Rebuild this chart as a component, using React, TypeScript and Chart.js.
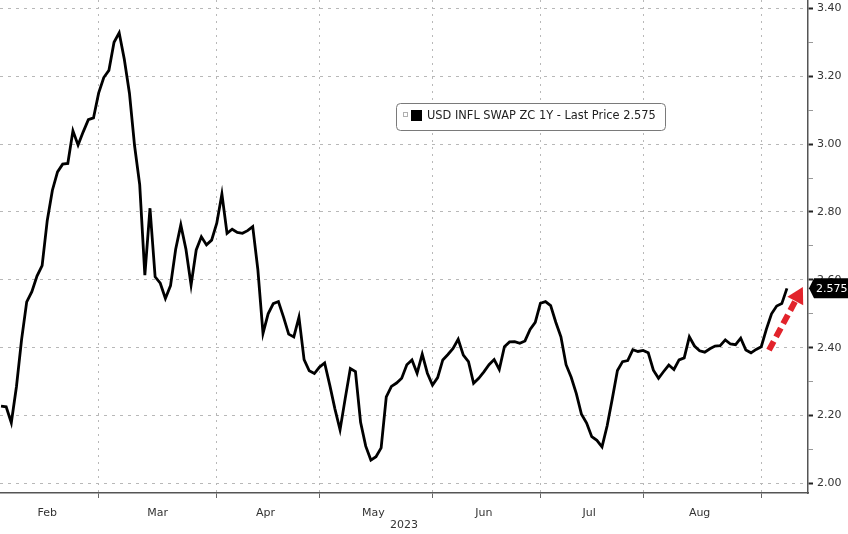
import React, { useEffect, useRef } from 'react';
import { Chart, registerables } from 'chart.js';

Chart.register(...registerables);

// ---- Data (one value per trading day, Feb 1 2023 onward) ----
const swapValues = [
  2.228, 2.226, 2.179, 2.285, 2.424, 2.535, 2.565, 2.611, 2.642, 2.775,
  2.864, 2.918, 2.941, 2.943, 3.039, 2.997, 3.036, 3.072, 3.077, 3.150,
  3.196, 3.217, 3.300, 3.328, 3.250, 3.150, 2.995, 2.880, 2.614, 2.811,
  2.609, 2.590, 2.545, 2.583, 2.690, 2.762, 2.690, 2.585, 2.688, 2.727,
  2.703, 2.717, 2.767, 2.853, 2.737, 2.749, 2.740, 2.737, 2.745, 2.757,
  2.630, 2.442, 2.500, 2.530, 2.536, 2.490, 2.440, 2.432, 2.490, 2.365,
  2.332, 2.324, 2.343, 2.355, 2.290, 2.220, 2.158, 2.250, 2.339, 2.330,
  2.180, 2.110, 2.069, 2.079, 2.105, 2.255, 2.286, 2.296, 2.310, 2.350,
  2.364, 2.325, 2.381, 2.325, 2.290, 2.312, 2.364, 2.380, 2.398, 2.425,
  2.378, 2.359, 2.295, 2.310, 2.329, 2.350, 2.365, 2.336, 2.403, 2.417,
  2.418, 2.413, 2.420, 2.454, 2.475, 2.531, 2.536, 2.524, 2.475, 2.432,
  2.350, 2.313, 2.265, 2.204, 2.178, 2.138, 2.127, 2.108, 2.170, 2.250,
  2.333, 2.359, 2.362, 2.394, 2.389, 2.392, 2.385, 2.334, 2.310, 2.330,
  2.349, 2.336, 2.364, 2.370, 2.432, 2.405, 2.391, 2.387, 2.397, 2.405,
  2.406, 2.423, 2.411, 2.409, 2.428, 2.393, 2.385, 2.395, 2.403, 2.455,
  2.500, 2.523, 2.530, 2.575,
];

// trading-day index of the first day of each month (gridlines)
const monthStarts = [19, 42, 62, 84, 105, 125, 148];
const monthLabels = ['Feb', 'Mar', 'Apr', 'May', 'Jun', 'Jul', 'Aug'];
const monthLabelPos = [9, 30.5, 51.5, 72.5, 94, 114.5, 136];
const yearLabel = '2023';

const yTicks = [2.0, 2.1, 2.2, 2.3, 2.4, 2.5, 2.6, 2.7, 2.8, 2.9, 3.0, 3.1, 3.2, 3.3, 3.4];
const yLabeled = [2.0, 2.2, 2.4, 2.6, 2.8, 3.0, 3.2, 3.4];

const seriesName = 'USD INFL SWAP ZC 1Y';
const lastPrice = 2.575;
const arrowFrom = { x: 149.5, y: 2.393 };
const arrowTo = { x: 156.1, y: 2.579 };

const FONT = '"DejaVu Sans", "Liberation Sans", sans-serif';

const isMajorY = (v: number) => yLabeled.some((t) => Math.abs(t - v) < 1e-6);
const isMonthStart = (v: number) => monthStarts.some((t) => Math.abs(t - v) < 1e-6);

const overlayPlugin = {
  id: 'bbgOverlay',
  afterDraw(chart: any) {
    const { ctx, chartArea, scales } = chart;
    const xs = scales.x;
    const ys = scales.y;
    ctx.save();

    // Legend box
    const bx = 396, by = 103, bw = 269, bh = 27;
    ctx.fillStyle = '#ffffff';
    ctx.strokeStyle = '#7a7a7a';
    ctx.lineWidth = 1;
    ctx.beginPath();
    (ctx as any).roundRect(bx + 0.5, by + 0.5, bw, bh, 4);
    ctx.fill();
    ctx.stroke();
    ctx.strokeStyle = '#b0b0b0';
    ctx.strokeRect(403.5, 112.5, 4, 4);
    ctx.fillStyle = '#000000';
    ctx.fillRect(411, 110, 11, 11);
    ctx.fillStyle = '#222222';
    ctx.font = '11.4px ' + FONT;
    ctx.textAlign = 'left';
    ctx.textBaseline = 'middle';
    ctx.fillText(`${seriesName} - Last Price ${lastPrice.toFixed(3)}`, 427, 116.5);

    // Red dashed arrow
    const x1 = xs.getPixelForValue(arrowFrom.x);
    const y1 = ys.getPixelForValue(arrowFrom.y);
    const x2 = xs.getPixelForValue(arrowTo.x);
    const y2 = ys.getPixelForValue(arrowTo.y);
    const ang = Math.atan2(y2 - y1, x2 - x1);
    const headLen = 16, headW = 9;
    const hx = x2 - headLen * Math.cos(ang);
    const hy = y2 - headLen * Math.sin(ang);
    ctx.strokeStyle = '#e2232b';
    ctx.lineWidth = 6;
    ctx.setLineDash([10, 5]);
    ctx.beginPath();
    ctx.moveTo(x1, y1);
    ctx.lineTo(hx, hy);
    ctx.stroke();
    ctx.setLineDash([]);
    ctx.fillStyle = '#e2232b';
    ctx.beginPath();
    ctx.moveTo(x2, y2);
    ctx.lineTo(hx + headW * Math.sin(ang), hy - headW * Math.cos(ang));
    ctx.lineTo(hx - headW * Math.sin(ang), hy + headW * Math.cos(ang));
    ctx.closePath();
    ctx.fill();

    // Last price tag on the axis
    const ly = ys.getPixelForValue(lastPrice);
    const r = chartArea.right;
    ctx.fillStyle = '#000000';
    ctx.beginPath();
    ctx.moveTo(r + 1, ly);
    ctx.lineTo(r + 6, ly - 10);
    ctx.lineTo(chart.width, ly - 10);
    ctx.lineTo(chart.width, ly + 10);
    ctx.lineTo(r + 6, ly + 10);
    ctx.closePath();
    ctx.fill();
    ctx.fillStyle = '#ffffff';
    ctx.font = '11px ' + FONT;
    ctx.fillText(lastPrice.toFixed(3), r + 8, ly + 0.5);

    ctx.restore();
  },
};

export default function App() {
  const canvasRef = useRef<HTMLCanvasElement | null>(null);

  useEffect(() => {
    if (!canvasRef.current) return;
    const chart = new Chart(canvasRef.current, {
      type: 'line',
      data: {
        datasets: [
          {
            label: seriesName,
            data: swapValues.map((v, i) => ({ x: i, y: v })),
            borderColor: '#000000',
            borderWidth: 2.8,
            pointRadius: 0,
            tension: 0,
            fill: false,
          },
        ],
      },
      options: {
        animation: false,
        responsive: false,
        maintainAspectRatio: false,
        layout: { padding: 0 },
        plugins: {
          legend: { display: false },
          tooltip: { enabled: false },
        },
        scales: {
          x: {
            type: 'linear',
            position: 'bottom',
            min: -0.2,
            max: 157.1,
            afterBuildTicks: (scale: any) => {
              scale.ticks = [...monthStarts, ...monthLabelPos]
                .sort((a, b) => a - b)
                .map((v) => ({ value: v }));
            },
            afterFit: (scale: any) => {
              scale.height = 41;
              scale.paddingLeft = 0;
              scale.paddingRight = 0;
            },
            ticks: {
              autoSkip: false,
              maxRotation: 0,
              padding: 9,
              color: '#333333',
              font: { family: FONT, size: 11 },
              callback: (value: any) => {
                const idx = monthLabelPos.findIndex((p) => Math.abs(p - value) < 1e-6);
                return idx >= 0 ? monthLabels[idx] : '';
              },
            },
            grid: {
              display: true,
              drawOnChartArea: true,
              drawTicks: true,
              tickLength: 5,
              lineWidth: 1,
              color: (ctx: any) => (ctx.tick && isMonthStart(ctx.tick.value) ? '#b8b8b8' : 'rgba(0,0,0,0)'),
              tickColor: (ctx: any) => (ctx.tick && isMonthStart(ctx.tick.value) ? '#666666' : 'rgba(0,0,0,0)'),
            },
            border: { display: true, color: '#555555', width: 1.5, dash: [2, 5] },
            title: {
              display: true,
              text: yearLabel,
              color: '#333333',
              font: { family: FONT, size: 11 },
              padding: { top: 0, bottom: 2 },
            },
          },
          y: {
            type: 'linear',
            position: 'right',
            min: 1.972,
            max: 3.4245,
            afterBuildTicks: (scale: any) => {
              scale.ticks = yTicks.map((v) => ({ value: v }));
            },
            afterFit: (scale: any) => {
              scale.width = 40;
              scale.paddingTop = 0;
              scale.paddingBottom = 0;
            },
            ticks: {
              autoSkip: false,
              padding: 4,
              color: '#333333',
              font: { family: FONT, size: 11 },
              callback: (value: any) => (isMajorY(value) ? Number(value).toFixed(2) : ''),
            },
            grid: {
              display: true,
              drawOnChartArea: true,
              drawTicks: true,
              tickLength: 5,
              lineWidth: 1,
              color: (ctx: any) => (ctx.tick && isMajorY(ctx.tick.value) ? '#b8b8b8' : 'rgba(0,0,0,0)'),
              tickColor: (ctx: any) => (ctx.tick && isMajorY(ctx.tick.value) ? '#222222' : '#999999'),
              tickWidth: (ctx: any) => (ctx.tick && isMajorY(ctx.tick.value) ? 2 : 1),
            },
            border: { display: true, color: '#555555', width: 1.5, dash: [3, 5] },
          },
        },
      },
      plugins: [overlayPlugin],
    } as any);
    return () => chart.destroy();
  }, []);

  return (
    <div style={{ position: 'fixed', left: 0, top: 0, width: 848, height: 534, background: '#ffffff' }}>
      <canvas ref={canvasRef} width={848} height={534} style={{ display: 'block' }} />
    </div>
  );
}
